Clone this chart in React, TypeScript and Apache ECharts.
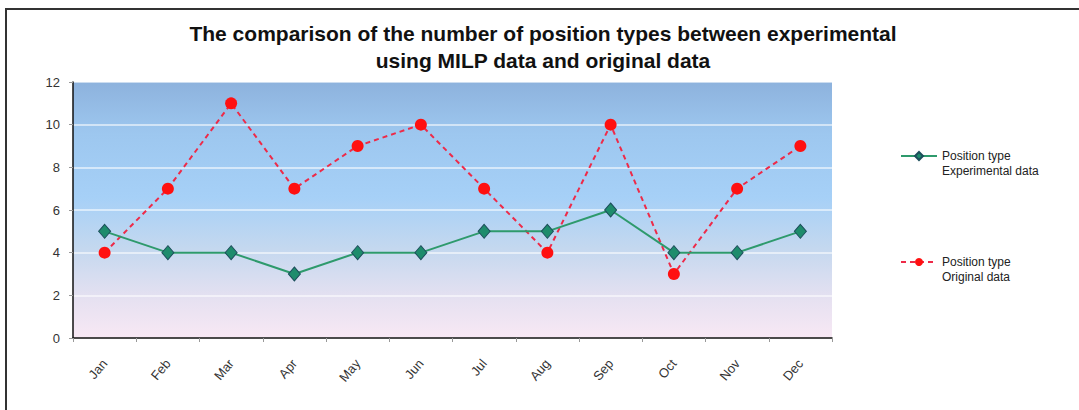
import React, { useEffect, useRef } from "react";
import * as echarts from "echarts";

const months = ["Jan", "Feb", "Mar", "Apr", "May", "Jun", "Jul", "Aug", "Sep", "Oct", "Nov", "Dec"];
const experimental = [5, 4, 4, 3, 4, 4, 5, 5, 6, 4, 4, 5];
const original = [4, 7, 11, 7, 9, 10, 7, 4, 10, 3, 7, 9];
const yTicks = { min: 0, max: 12, interval: 2 };
const titleText = "The comparison of the number of position types between experimental\nusing MILP data and original data";
const expName = "Position type Experimental data";
const origName = "Position type Original data";

const NARROW = '"Liberation Sans Narrow", "Arial Narrow", "Liberation Sans", Arial, sans-serif';
const SANS = '"Liberation Sans", Arial, sans-serif';

export default function App() {
  const ref = useRef<HTMLDivElement>(null);
  useEffect(() => {
    if (!ref.current) return;
    const chart = echarts.init(ref.current, null, { renderer: "svg" });
    chart.setOption({
      animation: false,
      backgroundColor: "#ffffff",
      title: {
        text: titleText,
        left: 538,
        textAlign: "center",
        top: 15,
        textStyle: {
          fontFamily: NARROW,
          fontSize: 21,
          fontWeight: "bold",
          color: "#111",
          lineHeight: 27,
        },
      },
      grid: {
        left: 73,
        right: 247,
        top: 82,
        bottom: 72,
        show: true,
        borderWidth: 0,
        backgroundColor: new echarts.graphic.LinearGradient(0, 0, 0, 1, [
          { offset: 0, color: "#8db2dd" },
          { offset: 0.2, color: "#9dc7ef" },
          { offset: 0.45, color: "#a6d0f7" },
          { offset: 0.65, color: "#c4d8ef" },
          { offset: 0.85, color: "#e6e1f1" },
          { offset: 1, color: "#f8e8f4" },
        ]),
      },
      legend: [
        {
          data: [expName],
          orient: "vertical",
          left: 895,
          top: 145,
          itemWidth: 36,
          itemHeight: 10,
          formatter: () => "Position type",
          textStyle: { fontFamily: NARROW, fontSize: 12, color: "#222" },
        },
        {
          data: [origName],
          orient: "vertical",
          left: 895,
          top: 251,
          itemWidth: 36,
          itemHeight: 10,
          formatter: () => "Position type",
          textStyle: { fontFamily: NARROW, fontSize: 12, color: "#222" },
        },
      ],
      graphic: [
        { type: "line", shape: { x1: 5, y1: 9, x2: 1079, y2: 9 }, style: { stroke: "#333", lineWidth: 2 } },
        { type: "line", shape: { x1: 6, y1: 9, x2: 6, y2: 410 }, style: { stroke: "#333", lineWidth: 2 } },
        {
          type: "text",
          left: 942,
          top: 165,
          style: { text: "Experimental data", fontFamily: NARROW, fontSize: 12, fill: "#222" },
        },
        {
          type: "text",
          left: 942,
          top: 271,
          style: { text: "Original data", fontFamily: NARROW, fontSize: 12, fill: "#222" },
        },
      ],
      xAxis: {
        type: "category",
        data: months,
        boundaryGap: true,
        axisLine: { lineStyle: { color: "#111", width: 1.5 } },
        axisTick: { show: true, length: 4, lineStyle: { color: "#999" } },
        axisLabel: {
          rotate: 50,
          margin: 23,
          fontFamily: SANS,
          fontSize: 13,
          color: "#333",
        },
        splitLine: { show: false },
      },
      yAxis: {
        type: "value",
        min: yTicks.min,
        max: yTicks.max,
        interval: yTicks.interval,
        axisLine: { show: true, lineStyle: { color: "#111", width: 1.5 } },
        axisTick: { show: true, length: 4, lineStyle: { color: "#999" } },
        axisLabel: { margin: 13, fontFamily: SANS, fontSize: 13, color: "#333" },
        splitLine: { show: true, lineStyle: { color: "rgba(255,255,255,0.55)", width: 2 } },
      },
      series: [
        {
          name: expName,
          type: "line",
          data: experimental,
          symbol: "diamond",
          symbolSize: [12, 14],
          lineStyle: { color: "#2e9a6c", width: 2 },
          itemStyle: { color: "#1e8c6c", borderColor: "#1d4f5c", borderWidth: 1 },
          z: 3,
        },
        {
          name: origName,
          type: "line",
          data: original,
          symbol: "circle",
          symbolSize: 12,
          lineStyle: { color: "#ee2a48", width: 2, type: [5, 4] },
          itemStyle: { color: "#ff1010", borderColor: "#ff1010", borderWidth: 0 },
          z: 2,
        },
      ],
    });
    return () => chart.dispose();
  }, []);
  return <div ref={ref} style={{ width: 1079, height: 410, position: "absolute", left: 0, top: 0 }} />;
}
